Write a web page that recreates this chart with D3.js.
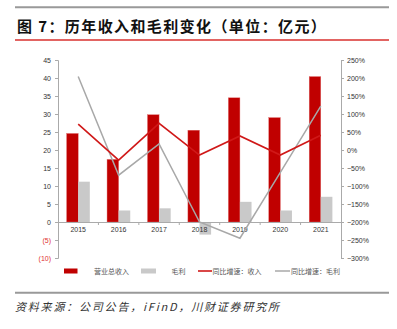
<!DOCTYPE html>
<html><head><meta charset="utf-8">
<script src="https://cdn.jsdelivr.net/npm/d3@7"></script>
<style>body{margin:0;background:#fff}svg{display:block}</style>
</head><body>
<svg id="c" width="397" height="329"></svg>
<script>
const categories = ["2015","2016","2017","2018","2019","2020","2021"];
const revenue = [24.6, 17.4, 29.8, 25.5, 34.5, 29.0, 40.4];
const grossProfit = [11.2, 3.2, 3.8, -3.5, 5.6, 3.2, 7.0];
const revenueGrowth = [72, -28, 74, -14, 39, -14, 41];
const profitGrowth = [204, -70, 17, -200, -245, -62, 122];
const leftTicks = [45,40,35,30,25,20,15,10,5,0,-5,-10];
const rightTicks = [250,200,150,100,50,0,-50,-100,-150,-200,-250,-300];
const legendLabels = ["营业总收入","毛利","同比增速：收入","同比增速：毛利"];
const titleText = "图 7：历年收入和毛利变化（单位：亿元）";
const sourceText = "资料来源：公司公告，iFinD，川财证券研究所";

const RED = "#C00000", GRAY = "#C9C9C9", RLINE = "#D01818", GLINE = "#A8A8A8";
const svg = d3.select("#c");
const x0 = 58, x1 = 341;
const x = d3.scaleBand().domain(categories).range([x0, x1]);
const yL = d3.scaleLinear().domain([-10,45]).range([258,60]);
const yR = d3.scaleLinear().domain([-300,250]).range([258,60]);
const bw = 11.6;

// header lines & title
svg.append("line").attr("x1",15).attr("x2",389).attr("y1",7.3).attr("y2",7.3).attr("stroke","#999").attr("stroke-width",2);
svg.append("text").attr("x",17).attr("y",25).attr("dominant-baseline","central")
  .attr("font-family","Noto Sans CJK SC").attr("font-weight","bold").attr("font-size",15)
  .attr("letter-spacing","1.4px").attr("fill","#111").attr("xml:space","preserve").text(titleText);
svg.append("line").attr("x1",15).attr("x2",389).attr("y1",40).attr("y2",40).attr("stroke","#D9302E").attr("stroke-width",1.5);

// left axis
const axL = d3.axisLeft(yL).tickValues(leftTicks).tickSize(3).tickPadding(4)
  .tickFormat(d => d < 0 ? "(" + (-d) + ")" : d);
const gL = svg.append("g").attr("transform",`translate(${x0},0)`).call(axL);
gL.select(".domain").attr("stroke","#aaa");
gL.selectAll(".tick line").attr("stroke","#aaa");
gL.selectAll("text").attr("font-family","Liberation Sans").attr("font-size",7)
  .attr("fill", d => d < 0 ? "#E03030" : "#333");

// right axis
const axR = d3.axisRight(yR).tickValues(rightTicks).tickSize(3).tickPadding(3)
  .tickFormat(d => (d < 0 ? "\u2212" + (-d) : d) + "%");
const gR = svg.append("g").attr("transform",`translate(${x1},0)`).call(axR);
gR.select(".domain").attr("stroke","#aaa");
gR.selectAll(".tick line").attr("stroke","#aaa");
gR.selectAll("text").attr("font-family","Liberation Sans").attr("font-size",7).attr("fill","#333");

// bars
svg.append("g").selectAll("rect").data(revenue).join("rect")
  .attr("x",(d,i)=>x(categories[i])+x.bandwidth()/2-bw).attr("width",bw)
  .attr("y",d=>yL(Math.max(0,d))).attr("height",d=>Math.abs(yL(d)-yL(0)))
  .attr("fill",RED).attr("stroke","#E07070").attr("stroke-width",0.4);
svg.append("g").selectAll("rect").data(grossProfit).join("rect")
  .attr("x",(d,i)=>x(categories[i])+x.bandwidth()/2).attr("width",bw)
  .attr("y",d=>yL(Math.max(0,d))).attr("height",d=>Math.abs(yL(d)-yL(0)))
  .attr("fill",GRAY);

// baseline + category axis
const axB = d3.axisBottom(x).tickSize(0).tickPadding(5);
const gB = svg.append("g").attr("transform",`translate(0,${yL(0)})`).call(axB);
gB.select(".domain").attr("stroke","#aaa");
gB.selectAll("text").attr("font-family","Liberation Sans").attr("font-size",7).attr("fill","#333");
svg.append("g").selectAll("line").data(categories.slice(1)).join("line")
  .attr("x1",d=>x(d)).attr("x2",d=>x(d)).attr("y1",yL(0)).attr("y2",yL(0)+3).attr("stroke","#aaa");

// lines
const cx = i => x(categories[i]) + x.bandwidth()/2;
const line = d3.line().x((d,i)=>cx(i)).y(d=>yR(d));
svg.append("path").datum(profitGrowth).attr("d",line).attr("fill","none").attr("stroke",GLINE).attr("stroke-width",1.5);
svg.append("path").datum(revenueGrowth).attr("d",line).attr("fill","none").attr("stroke",RLINE).attr("stroke-width",1.6);

// legend
const lg = svg.append("g").attr("font-family","Noto Sans CJK SC").attr("font-size",7).attr("fill","#555");
const ly = 271;
lg.append("rect").attr("x",64).attr("y",ly-2.5).attr("width",13.5).attr("height",5).attr("fill",RED);
lg.append("text").attr("x",94).attr("y",ly).attr("dominant-baseline","central").text(legendLabels[0]);
lg.append("rect").attr("x",141).attr("y",ly-2.5).attr("width",15).attr("height",5).attr("fill",GRAY);
lg.append("text").attr("x",171.5).attr("y",ly).attr("dominant-baseline","central").text(legendLabels[1]);
lg.append("line").attr("x1",198).attr("x2",212).attr("y1",ly).attr("y2",ly).attr("stroke",RLINE).attr("stroke-width",1.6);
lg.append("text").attr("x",212.5).attr("y",ly).attr("dominant-baseline","central").text(legendLabels[2]);
lg.append("line").attr("x1",275).attr("x2",290).attr("y1",ly).attr("y2",ly).attr("stroke",GLINE).attr("stroke-width",1.5);
lg.append("text").attr("x",291).attr("y",ly).attr("dominant-baseline","central").text(legendLabels[3]);

// footer
svg.append("line").attr("x1",15).attr("x2",389).attr("y1",292.7).attr("y2",292.7).attr("stroke","#999").attr("stroke-width",2);
svg.append("text").attr("x",15).attr("y",306).attr("dominant-baseline","central")
  .attr("font-family","Noto Sans CJK SC").attr("font-style","italic").attr("font-size",11)
  .attr("letter-spacing","1.8px").attr("fill","#333").text(sourceText);
</script>
</body></html>
